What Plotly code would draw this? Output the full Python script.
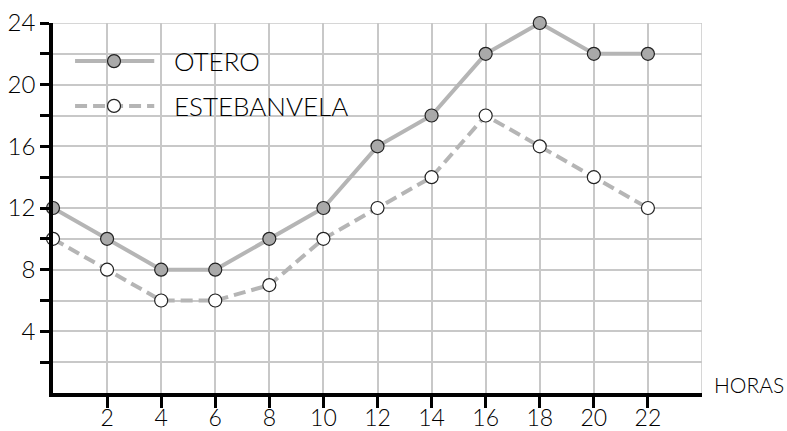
import plotly.graph_objects as go

horas = [0, 2, 4, 6, 8, 10, 12, 14, 16, 18, 20, 22]
otero = [12, 10, 8, 8, 10, 12, 16, 18, 22, 24, 22, 22]
estebanvela = [10, 8, 6, 6, 7, 10, 12, 14, 18, 16, 14, 12]
y_ticks = [2, 4, 6, 8, 10, 12, 14, 16, 18, 20, 22, 24]
y_labels = ["", "4", "", "8", "", "12", "", "16", "", "20", "", "24"]
x_ticks = [2, 4, 6, 8, 10, 12, 14, 16, 18, 20, 22]
x_labels = [str(v) for v in x_ticks]

FONT = "Lato"
W = 300
LINE = "#b5b5b5"
GRID = "#c8c8c8"
TXT = "#000"

fig = go.Figure()
fig.add_trace(go.Scatter(
    x=horas, y=estebanvela, mode="lines+markers", name="ESTEBANVELA",
    line=dict(color=LINE, width=4, dash="12px,6px"),
    marker=dict(size=13, color="white", line=dict(color="#222", width=1.2)),
    cliponaxis=False, showlegend=False))
fig.add_trace(go.Scatter(
    x=horas, y=otero, mode="lines+markers", name="OTERO",
    line=dict(color=LINE, width=4),
    marker=dict(size=13, color="#a9a9a9", line=dict(color="#222", width=1.2)),
    cliponaxis=False, showlegend=False))

shapes = [
    dict(type="line", xref="x", yref="y", x0=24, x1=24, y0=0, y1=24,
         line=dict(color=GRID, width=1.5), layer="below"),
    dict(type="line", xref="x", yref="y", x0=0, x1=24, y0=24, y1=24,
         line=dict(color=GRID, width=1.5), layer="below"),
    # legend
    dict(type="line", xref="paper", yref="paper", x0=0.034, x1=0.156, y0=0.897, y1=0.897,
         line=dict(color=LINE, width=4)),
    dict(type="line", xref="paper", yref="paper", x0=0.034, x1=0.156, y0=0.776, y1=0.776,
         line=dict(color=LINE, width=4, dash="12px,6px")),
]
for yc, fill in [(0.897, "#a9a9a9"), (0.776, "white")]:
    shapes.append(dict(type="circle", xref="paper", yref="paper", xsizemode="pixel",
                       ysizemode="pixel", xanchor=0.094, yanchor=yc,
                       x0=-6.5, x1=6.5, y0=-6.5, y1=6.5,
                       fillcolor=fill, line=dict(color="#222", width=1.2)))

annotations = [
    dict(text="OTERO", xref="paper", yref="paper", x=0.184, y=0.897, xanchor="left",
         yanchor="middle", showarrow=False,
         font=dict(family=FONT, size=26, color=TXT, weight=W)),
    dict(text="ESTEBANVELA", xref="paper", yref="paper", x=0.184, y=0.776, xanchor="left",
         yanchor="middle", showarrow=False,
         font=dict(family=FONT, size=26, color=TXT, weight=W)),
    dict(text="HORAS", xref="paper", yref="paper", x=1.015, y=0.024, xanchor="left",
         yanchor="middle", showarrow=False,
         font=dict(family=FONT, size=21, color=TXT, weight=W)),
]

axis_common = dict(
    range=[0, 24], showgrid=True, gridcolor=GRID, gridwidth=1.5,
    ticks="outside", tickwidth=3, tickcolor="black",
    showline=True, linecolor="black", linewidth=3.5, zeroline=False,
    automargin=False)

fig.update_layout(
    width=787, height=431,
    margin=dict(l=53, r=85, t=23, b=38),
    paper_bgcolor="white", plot_bgcolor="white",
    shapes=shapes, annotations=annotations,
    font=dict(family=FONT, color=TXT),
    xaxis=dict(tickvals=x_ticks, ticktext=x_labels, ticklen=11,
               ticklabelstandoff=-9,
               tickfont=dict(size=23, family=FONT, color=TXT, weight=W),
               **axis_common),
    yaxis=dict(tickvals=y_ticks, ticktext=y_labels, ticklen=9,
               tickfont=dict(size=24, family=FONT, color=TXT, weight=W),
               **axis_common),
)

fig.write_html("out.html", config={"displayModeBar": False},
               post_script="document.body.style.margin='0';document.body.style.overflow='hidden';")
